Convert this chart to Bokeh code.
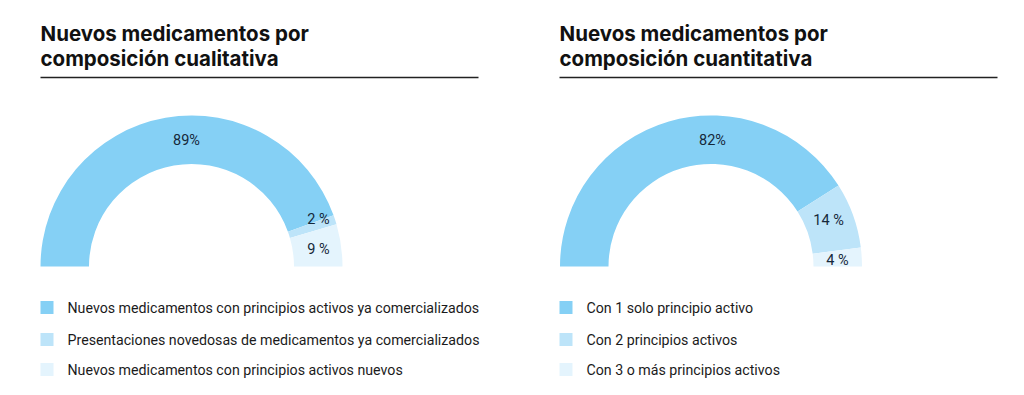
import numpy as np
from bokeh.plotting import figure
from bokeh.models import Range1d
from bokeh.core.properties import value
from bokeh.embed import file_html
from bokeh.resources import INLINE

# ---- data ----
title_left = ["Nuevos medicamentos por", "composición cualitativa"]
title_right = ["Nuevos medicamentos por", "composición cuantitativa"]
cats_left = ["Nuevos medicamentos con principios activos ya comercializados",
             "Presentaciones novedosas de medicamentos ya comercializados",
             "Nuevos medicamentos con principios activos nuevos"]
vals_left = [89, 2, 9]
labels_left = ["89%", "2 %", "9 %"]
cats_right = ["Con 1 solo principio activo",
              "Con 2 principios activos",
              "Con 3 o más principios activos"]
vals_right = [82, 14, 4]
labels_right = ["82%", "14 %", "4 %"]
colors = ["#85D0F5", "#BDE4F9", "#E4F4FD"]

W, H = 1008, 379
p = figure(width=W, height=H, output_backend="svg", toolbar_location=None,
           x_range=Range1d(0, W), y_range=Range1d(395 - H, 395),
           min_border=0)
p.axis.visible = False
p.grid.visible = False
p.outline_line_color = None
p.background_fill_color = "white"
p.border_fill_color = "white"

def Y(py):
    return 395 - py

TEXT = "#1b1b1b"
LABEL = "#16283a"

def panel(x0, cx, titles, cats, vals, labels, label_pos):
    # title
    p.text(x=[x0, x0], y=[Y(33), Y(58)], text=titles,
           text_font=value("Inter"), text_font_style="bold",
           text_font_size="20.5px", text_color="#111111",
           text_baseline="middle", text_align="left")
    p.segment(x0=[x0], y0=[Y(77)], x1=[x0 + 438], y1=[Y(77)],
              line_color="#222222", line_width=1.3)
    # donut
    v = np.array(vals, dtype=float)
    frac = np.cumsum(v) / v.sum()
    ends = np.pi * (1 - frac)
    starts = np.concatenate([[np.pi], ends[:-1]])
    p.annular_wedge(x=[cx] * len(v), y=[Y(266)] * len(v),
                    inner_radius=102.5, outer_radius=151,
                    inner_radius_units="screen", outer_radius_units="screen",
                    start_angle=list(ends), end_angle=list(starts),
                    fill_color=colors, line_color=None)
    lx = [cx + d[0] for d in label_pos]
    ly = [Y(266 - d[1]) for d in label_pos]
    p.text(x=lx, y=ly, text=labels, text_font=value("Roboto"),
           text_font_size="14.5px", text_color=LABEL,
           text_align="center", text_baseline="middle")
    # legend
    rows = [307, 339, 369]
    p.rect(x=[x0 + 6.5] * 3, y=[Y(r) for r in rows], width=13, height=13,
           width_units="screen", height_units="screen",
           fill_color=colors, line_color=None)
    p.text(x=[x0 + 27] * 3, y=[Y(r) for r in rows], text=cats,
           text_font=value("Roboto"), text_font_size="14.2px",
           text_color=TEXT, text_align="left", text_baseline="middle")

panel(40, 191, title_left, cats_left, vals_left, labels_left,
      [(-5, 126), (127, 47), (127, 17)])
panel(559, 710.5, title_right, cats_right, vals_right, labels_right,
      [(1.5, 126), (117.5, 46), (126.5, 6)])

open("out.html", "w").write(file_html(p, INLINE))
